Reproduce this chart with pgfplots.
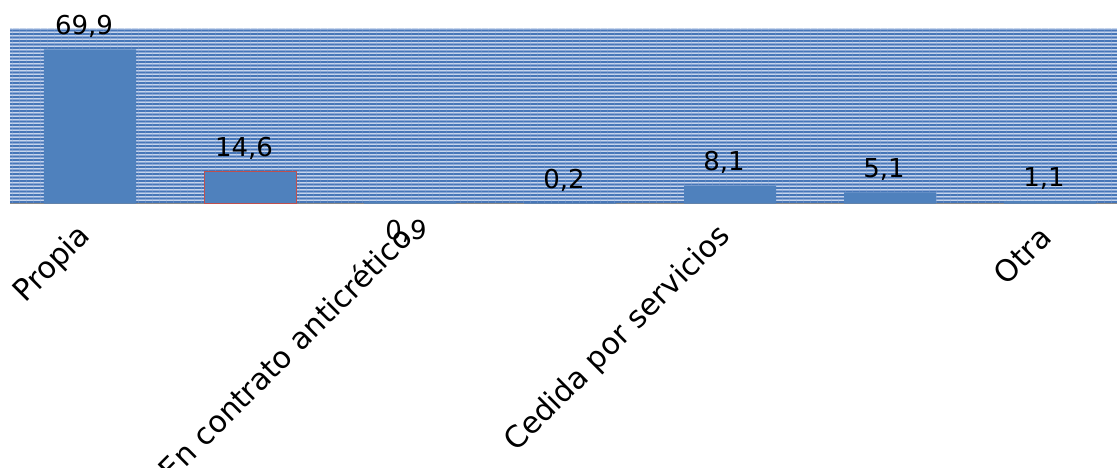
\documentclass[border=0pt]{standalone}
\usepackage{pgfplots}
\pgfplotsset{compat=1.18}
\usepackage{pgfplotstable}
\usepackage{fontspec}
\setmainfont{DejaVu Sans}
\usetikzlibrary{patterns.meta}

\definecolor{barblue}{HTML}{4F81BD}
\definecolor{bglight}{HTML}{8AA7D5}
\definecolor{bgdark}{HTML}{4676B8}
\definecolor{bgpale}{HTML}{C6D5EC}
\definecolor{baseline}{HTML}{898989}
\definecolor{edgered}{HTML}{C0504D}

\pgfplotstableread{
x y lbl dx dy
0 69.9 69,9 -6 15
1 14.6 14,6 -6 15
2 0.9 0,9 -4 -38
3 0.2 0,2 -6 15
4 8.1 8,1 -6 15
5 5.1 5,1 -6 15
6 1.1 1,1 -6 15
}\datatable

\begin{document}
\begin{tikzpicture}
\begin{axis}[
  at={(10bp,264.5bp)}, anchor=south west,
  scale only axis,
  width=1107bp, height=175bp,
  xmin=-0.5, xmax=6.41875,
  ymin=0, ymax=79.4,
  ybar, bar width=92bp,
  axis x line*=bottom, axis y line*=left,
  x axis line style={draw=baseline, line width=1.5bp},
  y axis line style={draw=none},
  ytick=\empty,
  xtick={0,2,4,6},
  xticklabels={Propia,En contrato anticrético,Cedida por servicios,Otra},
  major tick length=0pt,
  xticklabel style={font=\fontsize{30bp}{34bp}\selectfont, inner sep=0pt,
    xshift=-4bp, yshift=-28bp, rotate=45, anchor=east},
  axis background/.style={fill=bglight,
    postaction={pattern={Lines[angle=0,distance=3.5bp,line width=1.3bp]}, pattern color=bgdark},
    postaction={pattern={Lines[angle=0,distance=3.5bp,line width=0.6bp,yshift=1.75bp]}, pattern color=bgpale}},
]
\addplot[fill=barblue, draw=none, bar shift=0pt,
  point meta=explicit symbolic,
  nodes near coords,
  visualization depends on={\thisrow{dx} \as \dx},
  visualization depends on={\thisrow{dy} \as \dy},
  every node near coord/.append style={font=\fontsize{26bp}{30bp}\selectfont,
    anchor=base, inner sep=0pt, xshift=\dx bp, yshift=\dy bp, text=black},
] table[x=x, y=y, meta=lbl] {\datatable};
\addplot[fill=barblue, draw=edgered, line width=0.8bp, bar shift=0pt]
  coordinates {(1,14.6)};
\end{axis}
\pgfresetboundingbox
\useasboundingbox (0,0) rectangle (1117bp,468bp);
\end{tikzpicture}
\end{document}
